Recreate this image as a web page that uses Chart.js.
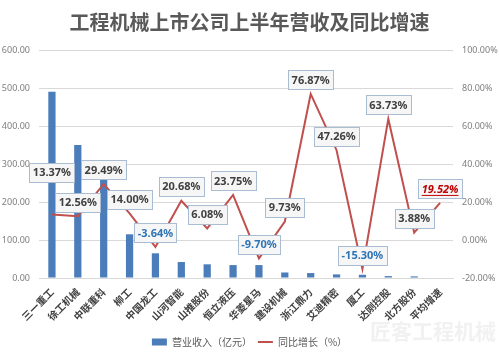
<!DOCTYPE html>
<html>
<head>
<meta charset="utf-8">
<script src="https://cdn.jsdelivr.net/npm/chart.js@4.4.1/dist/chart.umd.min.js"></script>
<style>
  html, body { margin: 0; padding: 0; background: #fff; }
  #wrap { width: 499px; height: 357px; position: relative; }
</style>
</head>
<body>
<div id="wrap"><canvas id="c"></canvas></div>
<script>
// 数据
const companies = ['三一重工', '徐工机械', '中联重科', '柳工', '中国龙工', '山河智能', '山推股份', '恒立液压',
  '华菱星马', '建设机械', '浙江鼎力', '艾迪精密', '厦工', '达刚控股', '北方股份', '平均增速'];
const revenue = [490, 350, 260, 115, 65, 42, 36, 34, 34, 14.5, 13, 9.5, 8.5, 5, 4.3, null]; // 亿元
const growth = [13.37, 12.56, 29.49, 14.00, -3.64, 20.68, 6.08, 23.75, -9.70, 9.73, 76.87, 47.26, -15.30, 63.73, 3.88, 19.52]; // %
const revenueRange = [0, 600, 100];
const growthRange = [-20, 100, 20];

const CJK = '"Noto Sans CJK SC", "Noto Sans", sans-serif';
const LATIN = '"Noto Sans", "Noto Sans CJK SC", sans-serif';

// 折线上的数据标签（方框）
const pointLabels = {
  id: 'pointLabels',
  afterDatasetsDraw(chart) {
    const meta = chart.getDatasetMeta(1);
    const ctx = chart.ctx;
    ctx.save();
    meta.data.forEach((pt, i) => {
      const v = growth[i];
      const last = i === growth.length - 1;
      const text = v.toFixed(2) + '%';
      ctx.font = (last ? 'italic ' : '') + 'bold 11px ' + LATIN;
      const tw = ctx.measureText(text).width;
      const w = Math.round(tw + 7), h = 19;
      const cx = pt.x, cy = pt.y - (i === 0 ? 42 : 14);
      const x0 = Math.round(cx - w / 2) + 0.5, y0 = Math.round(cy - h / 2) + 0.5;
      ctx.fillStyle = '#f6f6f6';
      ctx.strokeStyle = '#a9bcd2';
      ctx.lineWidth = 1;
      ctx.fillRect(x0, y0, w, h);
      ctx.strokeRect(x0, y0, w, h);
      ctx.fillStyle = last ? '#c00000' : (v < 0 ? '#2e74b5' : '#404040');
      ctx.textAlign = 'center';
      ctx.textBaseline = 'middle';
      ctx.fillText(text, cx, cy + 0.5);
      if (last) {
        ctx.fillRect(cx - tw / 2, cy + 6, tw, 1);
      }
    });
    ctx.restore();
  }
};

// 水印
const watermark = {
  id: 'watermark',
  afterDraw(chart) {
    const ctx = chart.ctx;
    ctx.save();
    ctx.font = 'bold 21px ' + CJK;
    ctx.fillStyle = 'rgba(190,190,190,0.22)';
    ctx.textAlign = 'left';
    ctx.textBaseline = 'middle';
    ctx.fillText('匠客工程机械', 370, 331);
    ctx.restore();
  }
};

new Chart(document.getElementById('c'), {
  data: {
    labels: companies,
    datasets: [
      {
        type: 'bar',
        label: '营业收入（亿元）',
        data: revenue,
        yAxisID: 'y',
        backgroundColor: '#4a7dba',
        borderWidth: 0,
        barPercentage: 0.28,
        categoryPercentage: 1,
        order: 2
      },
      {
        type: 'line',
        label: '同比增长（%）',
        data: growth,
        yAxisID: 'y1',
        borderColor: '#c0504d',
        backgroundColor: '#c0504d',
        borderWidth: 2,
        pointRadius: 0,
        tension: 0,
        order: 1
      }
    ]
  },
  options: {
    responsive: true,
    maintainAspectRatio: false,
    animation: false,
    layout: { padding: 0 },
    plugins: {
      title: {
        display: true,
        text: '工程机械上市公司上半年营收及同比增速',
        color: '#595959',
        font: { family: CJK, size: 20, weight: 'bold' },
        padding: { top: 10, bottom: 16 }
      },
      legend: {
        position: 'bottom',
        labels: {
          usePointStyle: true,
          pointStyleWidth: 15,
          boxHeight: 7,
          padding: 6,
          color: '#595959',
          font: { family: CJK, size: 10 },
          generateLabels(chart) {
            return chart.data.datasets.map((ds, i) => ({
              text: ds.label,
              datasetIndex: i,
              fillStyle: ds.type === 'bar' ? ds.backgroundColor : 'transparent',
              strokeStyle: ds.type === 'bar' ? ds.backgroundColor : ds.borderColor,
              lineWidth: ds.type === 'bar' ? 0 : 2,
              pointStyle: ds.type === 'bar' ? 'rect' : 'line',
              fontColor: '#595959',
              hidden: false
            }));
          }
        }
      },
      tooltip: { enabled: false }
    },
    scales: {
      x: {
        grid: { display: false, drawTicks: false },
        border: { display: true, color: '#d9d9d9' },
        ticks: {
          autoSkip: false,
          maxRotation: 45,
          minRotation: 45,
          padding: 8,
          color: '#404040',
          font: { family: CJK, size: 10, weight: 'bold' }
        },
        afterFit(s) { s.height = 53; }
      },
      y: {
        position: 'left',
        min: revenueRange[0],
        max: revenueRange[1],
        ticks: {
          stepSize: revenueRange[2],
          padding: 9,
          color: '#7f7f7f',
          font: { family: LATIN, size: 9 },
          callback: v => v.toFixed(2)
        },
        grid: { color: '#d9d9d9', drawTicks: false },
        border: { display: false },
        afterFit(s) { s.width = 39; }
      },
      y1: {
        position: 'right',
        min: growthRange[0],
        max: growthRange[1],
        ticks: {
          stepSize: growthRange[2],
          padding: 9,
          color: '#7f7f7f',
          font: { family: LATIN, size: 9 },
          callback: v => v.toFixed(2) + '%'
        },
        grid: { display: false, drawTicks: false },
        border: { display: false },
        afterFit(s) { s.width = 46; }
      }
    }
  },
  plugins: [pointLabels, watermark]
});
</script>
</body>
</html>
